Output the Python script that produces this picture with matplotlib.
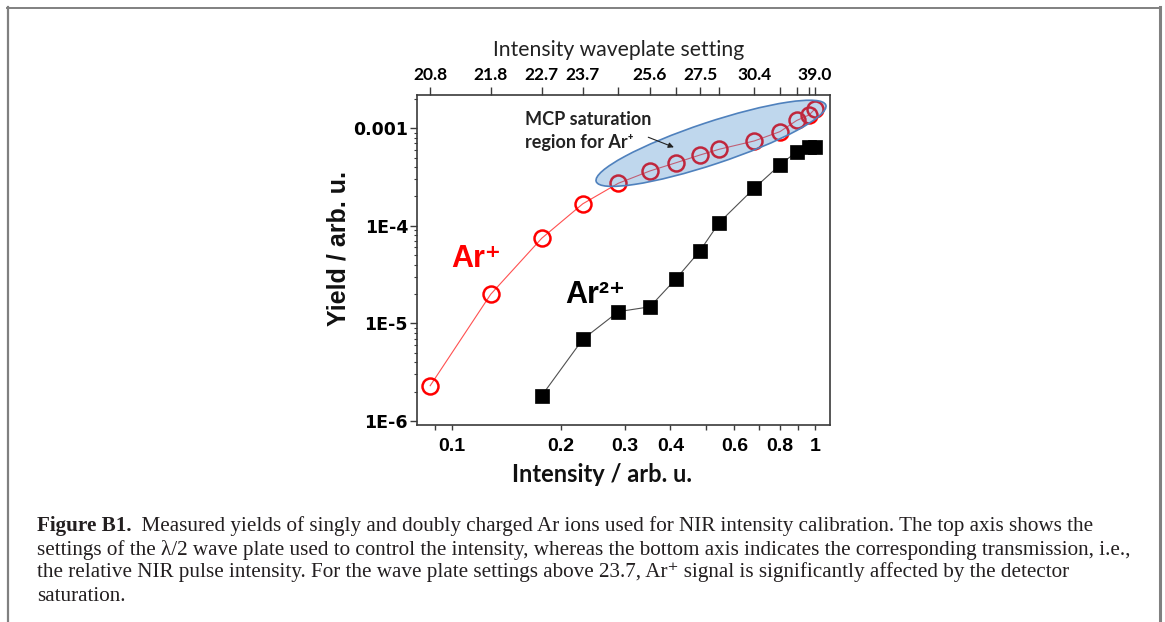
import matplotlib
matplotlib.use("Agg")
import matplotlib.pyplot as plt
import matplotlib.transforms as mtransforms
from matplotlib.patches import Ellipse
from matplotlib.lines import Line2D
from matplotlib.ticker import FixedLocator, FixedFormatter, NullLocator

# ---------------- data ----------------
intensity = [0.0872, 0.128, 0.1769, 0.2294, 0.2875, 0.3513, 0.4145,
             0.4826, 0.5451, 0.6808, 0.8011, 0.8905, 0.9645, 1.0]
ar1_yield = [2.30e-6, 1.99e-5, 7.46e-5, 1.68e-4, 2.73e-4, 3.65e-4, 4.43e-4,
             5.32e-4, 6.09e-4, 7.41e-4, 9.23e-4, 1.20e-3, 1.37e-3, 1.58e-3]
ar2_intensity = [0.1769, 0.2294, 0.2875, 0.3513, 0.4145, 0.4826, 0.5451,
                 0.6808, 0.8011, 0.8905, 0.9645, 1.0]
ar2_yield = [1.82e-6, 6.87e-6, 1.32e-5, 1.48e-5, 2.87e-5, 5.56e-5, 1.08e-4,
             2.43e-4, 4.21e-4, 5.75e-4, 6.38e-4, 6.49e-4]
waveplate_labels = ["20.8", "21.8", "22.7", "23.7", "", "25.6", "", "27.5",
                    "", "30.4", "", "", "", "39.0"]
bottom_ticks = [0.09, 0.1, 0.2, 0.3, 0.4, 0.5, 0.6, 0.7, 0.8, 0.9, 1.0]
bottom_labels = ["", "0.1", "0.2", "0.3", "0.4", "", "0.6", "", "0.8", "", "1"]
y_ticks = [1e-6, 1e-5, 1e-4, 1e-3]
y_labels = ["1E-6", "1E-5", "1E-4", "0.001"]

caption_lines = [
    "Measured yields of singly and doubly charged Ar ions used for NIR intensity calibration. The top axis shows the",
    "settings of the \u03bb/2 wave plate used to control the intensity, whereas the bottom axis indicates the corresponding transmission, i.e.,",
    "the relative NIR pulse intensity. For the wave plate settings above 23.7, Ar\u207a signal is significantly affected by the detector",
    "saturation.",
]

W, H, DPI = 1165, 622, 100
fig = plt.figure(figsize=(W / DPI, H / DPI), dpi=DPI)
fig.patch.set_facecolor("white")

def fx(px):
    return px / W

def fy(py):
    return 1 - py / H

# axes box in pixels: left 417, right 830, top 95, bottom 425
ax = fig.add_axes([fx(417), fy(425), fx(830) - fx(417), fy(95) - fy(425)])
ax.set_xscale("log")
ax.set_yscale("log")
ax.set_xlim(0.0802, 1.10)
ax.set_ylim(9.1e-7, 2.19e-3)

spine_c = "#3a3a3a"
for s in ax.spines.values():
    s.set_color(spine_c)
    s.set_linewidth(1.2)

# data
ax.plot(intensity, ar1_yield, "-", color="#ff5050", lw=0.8, zorder=2)
ax.plot(intensity, ar1_yield, "o", ls="none", ms=11.5, mfc="none", mec="#ff0000",
        mew=1.8, zorder=3)
ax.plot(ar2_intensity, ar2_yield, "-", color="#505050", lw=0.8, zorder=2)
ax.plot(ar2_intensity, ar2_yield, "s", ls="none", ms=10.5, mfc="black", mec="black",
        mew=0.5, zorder=5)

# saturation ellipse (drawn in pixel units around an axes point)
ell_tr = fig.dpi_scale_trans + mtransforms.ScaledTranslation(0.7119, 0.8536, ax.transAxes)
ell = Ellipse((0, 0), 2.42, 0.42, angle=18.4, transform=ell_tr,
              facecolor=(0.2, 0.5, 0.78, 0.31), edgecolor="#4f81bd", lw=1.2, zorder=4)
ax.add_patch(ell)

# y axis ticks
ax.yaxis.set_major_locator(FixedLocator(y_ticks))
ax.yaxis.set_major_formatter(FixedFormatter(y_labels))
minor_y = [m * 10.0 ** e for e in range(-7, -2) for m in range(2, 10)]
ax.yaxis.set_minor_locator(FixedLocator(minor_y))
ax.tick_params(axis="y", which="major", direction="out", length=5, width=1.0,
               color=spine_c, pad=1.5, labelsize=12.5, left=True, right=False)
ax.tick_params(axis="y", which="minor", direction="out", length=2.5, width=0.8,
               color=spine_c, left=True, right=False)
for lab in ax.get_yticklabels():
    lab.set_fontfamily("DejaVu Sans")
    lab.set_fontweight("bold")

# bottom axis ticks
ax.xaxis.set_major_locator(FixedLocator(bottom_ticks))
ax.xaxis.set_major_formatter(FixedFormatter(bottom_labels))
ax.xaxis.set_minor_locator(NullLocator())
ax.tick_params(axis="x", which="major", direction="out", length=3.5, width=1.0,
               color=spine_c, pad=6, labelsize=14, top=False)
for lab in ax.get_xticklabels():
    lab.set_fontfamily("Liberation Sans")
    lab.set_fontweight("bold")

# top axis
axt = ax.twiny()
axt.set_xscale("log")
axt.set_xlim(ax.get_xlim())
axt.xaxis.set_major_locator(FixedLocator(intensity))
axt.xaxis.set_major_formatter(FixedFormatter(waveplate_labels))
axt.xaxis.set_minor_locator(NullLocator())
axt.tick_params(axis="x", which="major", direction="out", length=5.5, width=1.0,
                color=spine_c, pad=3, labelsize=12.5)
for lab in axt.get_xticklabels():
    lab.set_fontfamily("Lato")
    lab.set_fontweight("bold")
for s in axt.spines.values():
    s.set_visible(False)

# in-plot labels
ax.text(0.084, 0.4797, "Ar\u207a", transform=ax.transAxes, color="#ff0000",
        fontsize=22, fontweight="bold", family=["Liberation Sans", "DejaVu Sans"],
        ha="left", va="baseline", zorder=6)
ax.text(0.360, 0.3688, "Ar\u00b2\u207a", transform=ax.transAxes, color="black",
        fontsize=22, fontweight="bold", family=["Liberation Sans", "DejaVu Sans"],
        ha="left", va="baseline", zorder=6)
ax.text(0.2615, 0.909, "MCP saturation", transform=ax.transAxes, color="#222222",
        fontsize=13, fontweight="bold", family=["Lato", "DejaVu Sans"],
        ha="left", va="baseline", zorder=6)
ax.text(0.2615, 0.8385, "region for Ar\u207a", transform=ax.transAxes, color="#222222",
        fontsize=13, fontweight="bold", family=["Lato", "DejaVu Sans"],
        ha="left", va="baseline", zorder=6)
ax.annotate("", xy=(0.622, 0.8415), xytext=(0.560, 0.872),
            xycoords="axes fraction", textcoords="axes fraction",
            arrowprops=dict(arrowstyle="-|>", color="#222222", lw=0.8,
                            mutation_scale=8, shrinkA=0, shrinkB=0), zorder=6)

# axis titles
fig.text(fx(601.7), fy(481.7), "Intensity / arb. u.", fontsize=17,
         fontweight="bold", family="Lato", ha="center", va="baseline", color="#111111")
fig.text(fx(339), fy(249), "Yield / arb. u.", fontsize=18, rotation=90,
         fontweight="bold", family="Liberation Sans", ha="center", va="center",
         color="#111111")
fig.text(fx(619), fy(56), "Intensity waveplate setting", fontsize=15.2,
         family="Lato", ha="center", va="baseline", color="#222222")

# outer frame of the figure panel
border_c = "#808080"
fig.add_artist(Line2D([fx(7.5), fx(7.5)], [fy(7), 0], color=border_c, lw=1.6,
                      transform=fig.transFigure))
fig.add_artist(Line2D([fx(7), fx(1160)], [fy(7.5), fy(7.5)], color=border_c, lw=1.4,
                      transform=fig.transFigure))
fig.add_artist(Line2D([fx(1159.5), fx(1159.5)], [fy(7), 0], color=border_c, lw=2.2,
                      transform=fig.transFigure))

# caption
cap_family = ["Liberation Serif", "DejaVu Serif"]
baselines = [531, 554.5, 577.5, 601]
cap_size = 13.5
bold_t = fig.text(fx(36.7), fy(baselines[0]), "Figure B1.", fontsize=cap_size,
                  fontweight="bold", family=cap_family, ha="left", va="baseline",
                  color="#231f20")
rest_t = fig.text(0, 0, "  " + caption_lines[0], fontsize=cap_size, family=cap_family,
                  ha="left", va="baseline", color="#231f20")
others = []
for line, b in zip(caption_lines[1:], baselines[1:]):
    others.append(fig.text(fx(36.7), fy(b), line, fontsize=cap_size, family=cap_family,
                           ha="left", va="baseline", color="#231f20"))

# fit caption size so the longest line spans the reference width
fig.canvas.draw()
r = fig.canvas.get_renderer()
w2 = others[0].get_window_extent(r).width
target = 1133 - 36.7
new_size = cap_size * target / w2
for t in [bold_t, rest_t] + others:
    t.set_fontsize(new_size)
fig.canvas.draw()
bb = bold_t.get_window_extent(r)
rest_t.set_position((bb.x1 / W, fy(baselines[0])))

fig.savefig("out.png", dpi=DPI, facecolor="white")
